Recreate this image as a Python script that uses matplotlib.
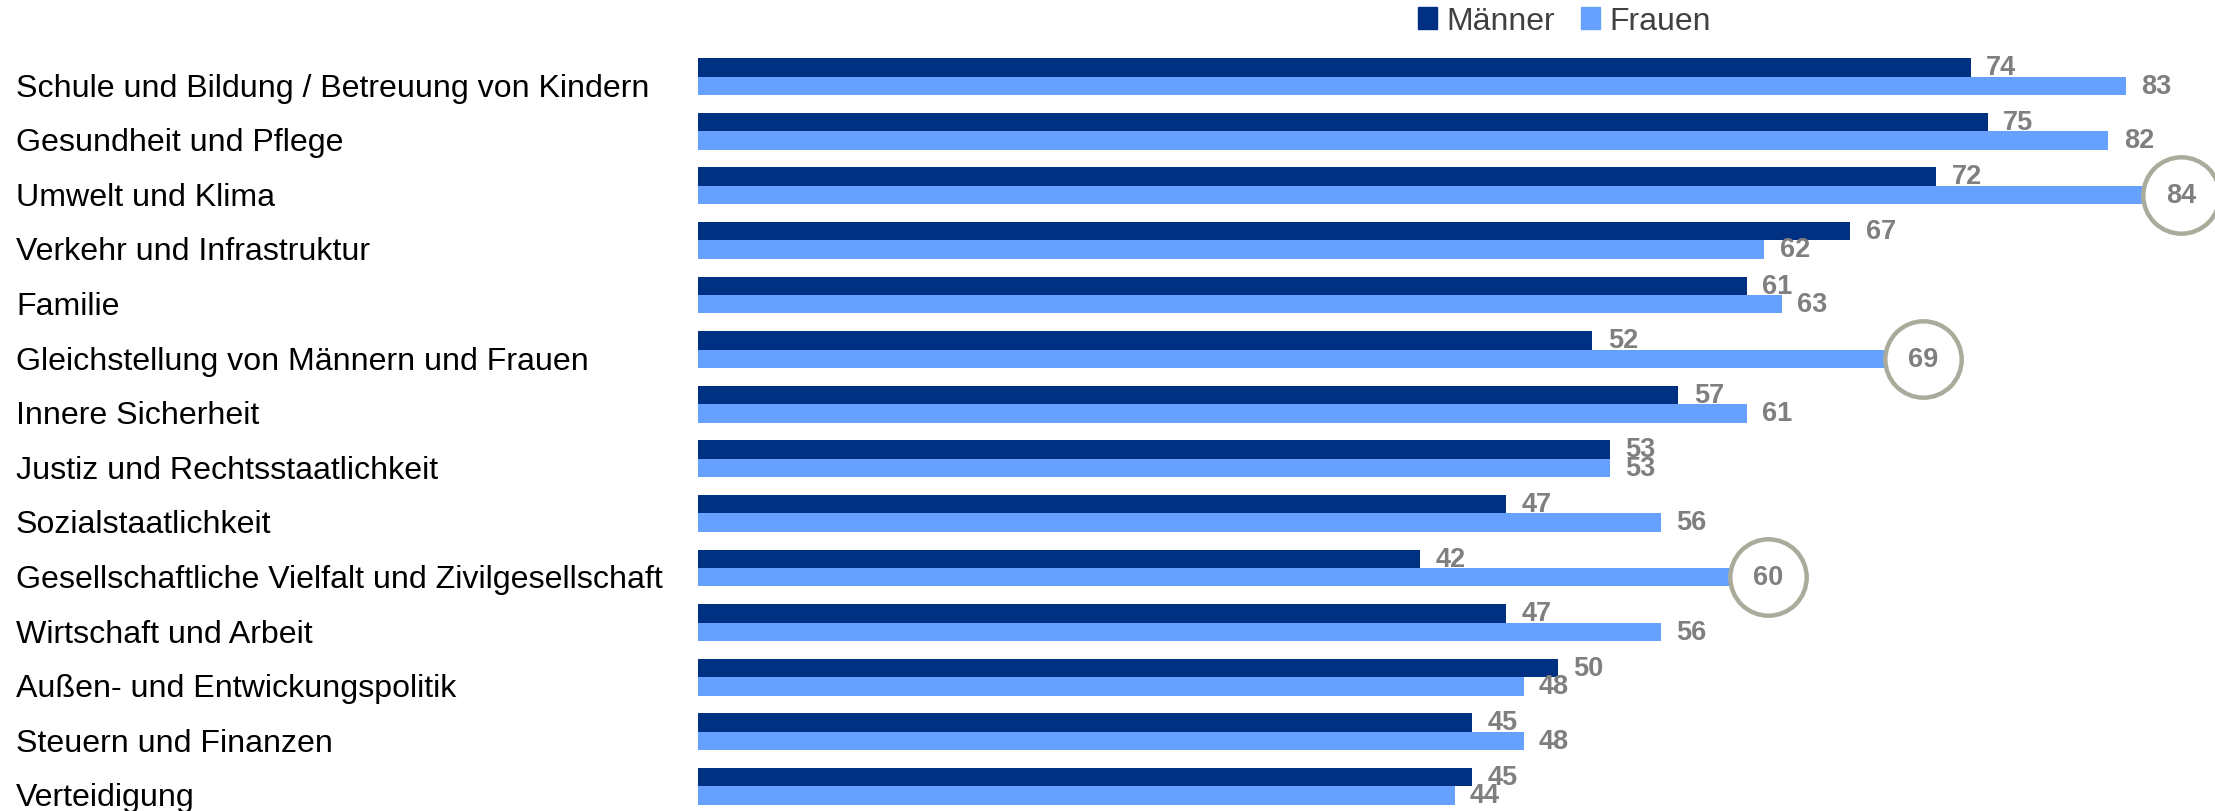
import matplotlib
matplotlib.use("Agg")
import matplotlib.pyplot as plt
import matplotlib.transforms as mtransforms
from matplotlib.patches import Patch

plt.rcParams['font.family'] = ['Liberation Sans', 'DejaVu Sans']

categories = [
    "Schule und Bildung / Betreuung von Kindern",
    "Gesundheit und Pflege",
    "Umwelt und Klima",
    "Verkehr und Infrastruktur",
    "Familie",
    "Gleichstellung von Männern und Frauen",
    "Innere Sicherheit",
    "Justiz und Rechtsstaatlichkeit",
    "Sozialstaatlichkeit",
    "Gesellschaftliche Vielfalt und Zivilgesellschaft",
    "Wirtschaft und Arbeit",
    "Außen- und Entwickungspolitik",
    "Steuern und Finanzen",
    "Verteidigung",
]
maenner = [74, 75, 72, 67, 61, 52, 57, 53, 47, 42, 47, 50, 45, 45]
frauen = [83, 82, 84, 62, 63, 69, 61, 53, 56, 60, 56, 48, 48, 44]
circled = ["Umwelt und Klima", "Gleichstellung von Männern und Frauen",
           "Gesellschaftliche Vielfalt und Zivilgesellschaft"]

c_m = "#003082"
c_f = "#66A1FF"
c_val = "#7F7F7F"
c_ring = "#ABAB9B"

W, H = 2215, 812
fig = plt.figure(figsize=(W / 100, H / 100), dpi=100)
left = 698 / W
ax = fig.add_axes([left, 0, 1 - left, 1])

step = 54.6
first = 77.5
unit = 17.2
ax.set_xlim(0, (W - 698) / unit)
ax.set_ylim((H - first) / step, -first / step)
h = 18.4 / step

ys = list(range(len(categories)))
ax.barh([y - h / 2 for y in ys], maenner, height=h, color=c_m)
ax.barh([y + h / 2 for y in ys], frauen, height=h, color=c_f)

for y, m in zip(ys, maenner):
    ax.annotate(str(m), (m, y - h / 2), xytext=(11, 0), textcoords="offset points",
                ha="left", va="center", fontsize=19.5, fontweight="bold", color=c_val)

for y, f, cat in zip(ys, frauen, categories):
    if cat in circled:
        cx = f + 38 / unit
        ax.plot([cx], [y + h / 2], marker="o", markersize=55, markerfacecolor="none",
                markeredgecolor=c_ring, markeredgewidth=3.2, clip_on=False)
        ax.text(cx, y + h / 2, str(f), ha="center", va="center", fontsize=19.5,
                fontweight="bold", color=c_val)
    else:
        ax.annotate(str(f), (f, y + h / 2), xytext=(11, 0), textcoords="offset points",
                    ha="left", va="center", fontsize=19.5, fontweight="bold", color=c_val)

trans = mtransforms.blended_transform_factory(fig.transFigure, ax.transData)
for y, cat in zip(ys, categories):
    ax.text(16 / W, y + h / 2 + 2 / step, cat, transform=trans, ha="left", va="center",
            fontsize=23.1, color="#000000")

ax.axis("off")

handles = [Patch(color=c_m), Patch(color=c_f)]
fig.legend(handles, ["Männer", "Frauen"], loc="center left",
           bbox_to_anchor=(1418 / W, 1 - 22 / H), ncol=2, frameon=False,
           fontsize=23, labelcolor="#404040", handlelength=0.6, handleheight=0.7,
           handletextpad=0.3, columnspacing=0.8, borderpad=0, borderaxespad=0)

fig.savefig("out.png", dpi=100)
